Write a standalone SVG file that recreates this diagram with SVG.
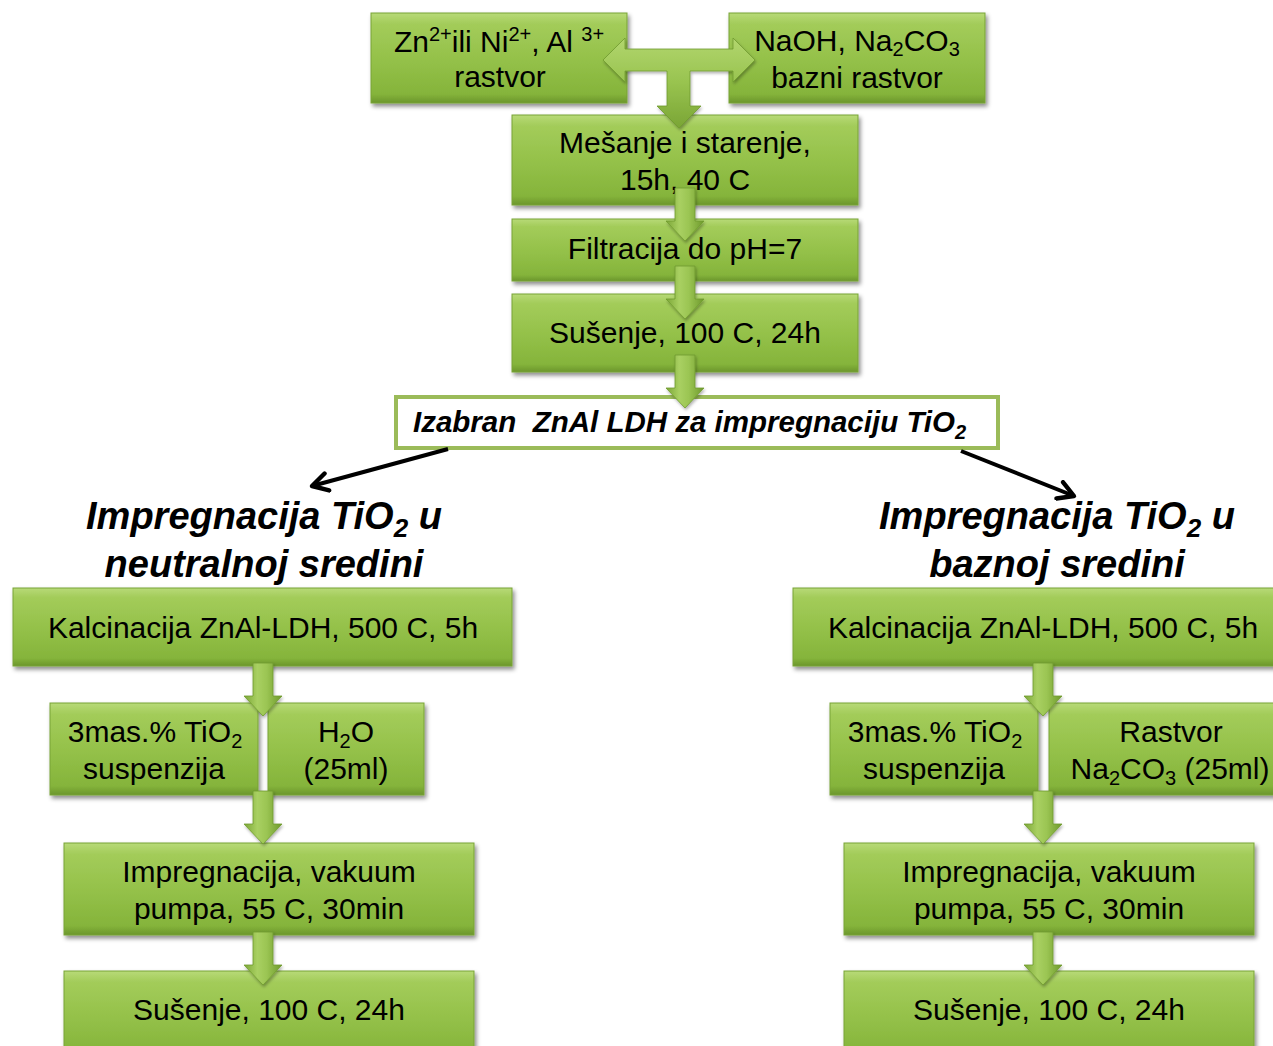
<svg xmlns="http://www.w3.org/2000/svg" width="1273" height="1046" viewBox="0 0 1273 1046">
  <style>
    .box { fill: url(#boxFill); stroke: #79a336; stroke-width: 1; filter: url(#shadow); }
    .t { font-family: "Liberation Sans", Arial, sans-serif; font-size: 30px; fill: #000; text-anchor: middle; }
    .s { font-size: 20px; }
    .head { font-family: "Liberation Sans", Arial, sans-serif; font-size: 38px; font-weight: bold; font-style: italic; fill: #000; text-anchor: middle; }
    .hs { font-size: 26px; }
    .sel { font-family: "Liberation Sans", Arial, sans-serif; font-size: 29.5px; font-weight: bold; font-style: italic; fill: #000; }
    .garrow { fill: url(#arrowFill); stroke: #6f9a2d; stroke-width: 0.8; filter: url(#ashadow); }
    .karrow { fill: none; stroke: #000; stroke-width: 4; marker-end: url(#openHead); }
  </style>
  <defs>
    <linearGradient id="boxFill" x1="0" y1="0" x2="0" y2="1">
      <stop offset="0" stop-color="#b8da78"/>
      <stop offset="0.12" stop-color="#a3cc5a"/>
      <stop offset="0.55" stop-color="#93c048"/>
      <stop offset="0.9" stop-color="#85b43b"/>
      <stop offset="1" stop-color="#6b962c"/>
    </linearGradient>
    <linearGradient id="arrowFill" x1="0" y1="0" x2="1" y2="0">
      <stop offset="0" stop-color="#7ba637"/>
      <stop offset="0.35" stop-color="#a9d062"/>
      <stop offset="0.6" stop-color="#9bc553"/>
      <stop offset="1" stop-color="#6e992c"/>
    </linearGradient>
    <linearGradient id="tFill" x1="0" y1="0" x2="0" y2="1">
      <stop offset="0" stop-color="#b2d66e"/>
      <stop offset="0.5" stop-color="#98c34f"/>
      <stop offset="1" stop-color="#7aa535"/>
    </linearGradient>
    <filter id="shadow" x="-5%" y="-10%" width="112%" height="130%">
      <feDropShadow dx="2" dy="3" stdDeviation="2" flood-color="#000" flood-opacity="0.45"/>
    </filter>
    <filter id="ashadow" x="-30%" y="-20%" width="160%" height="150%">
      <feDropShadow dx="1" dy="2" stdDeviation="1.5" flood-color="#000" flood-opacity="0.3"/>
    </filter>
    <path id="down" d="M-10,0 H10 V33 H19 L0,53 L-19,33 H-10 Z"/>
    <marker id="openHead" viewBox="0 0 20 20" refX="17" refY="10" markerWidth="22" markerHeight="22" markerUnits="userSpaceOnUse" orient="auto">
      <path d="M3,2 L17,10 L3,18" fill="none" stroke="#000" stroke-width="4" stroke-linecap="round" stroke-linejoin="round"/>
    </marker>
  </defs>

  <rect width="1273" height="1046" fill="#fff"/>

  <!-- upper synthesis chain -->
  <g id="n-metal-solution">
    <rect class="box" x="371" y="13" width="256" height="90"/>
    <text class="t" x="499" y="52">Zn<tspan class="s" dy="-11">2+</tspan><tspan dy="11">ili Ni</tspan><tspan class="s" dy="-11">2+</tspan><tspan dy="11">, Al </tspan><tspan class="s" dy="-11">3+</tspan></text>
    <text class="t" x="500" y="87">rastvor</text>
  </g>
  <g id="n-base-solution">
    <rect class="box" x="729" y="13" width="256" height="90"/>
    <text class="t" x="857" y="51">NaOH, Na<tspan class="s" dy="5">2</tspan><tspan dy="-5">CO</tspan><tspan class="s" dy="5">3</tspan></text>
    <text class="t" x="857" y="88">bazni rastvor</text>
  </g>
  <g id="n-mixing">
    <rect class="box" x="512" y="115" width="346" height="90"/>
    <text class="t" x="685" y="153">Mešanje i starenje,</text>
    <text class="t" x="685" y="190">15h, 40 C</text>
  </g>
  <g id="n-filtration">
    <rect class="box" x="512" y="219" width="346" height="62"/>
    <text class="t" x="685" y="259">Filtracija do pH=7</text>
  </g>
  <g id="n-drying">
    <rect class="box" x="512" y="294" width="346" height="78"/>
    <text class="t" x="685" y="343">Sušenje, 100 C, 24h</text>
  </g>
  <g id="n-selected">
    <rect x="396" y="397" width="602" height="51" fill="#fff" stroke="#9bbb59" stroke-width="4"/>
    <text class="sel" x="413" y="432" xml:space="preserve">Izabran  ZnAl LDH za impregnaciju TiO<tspan class="s" dy="7">2</tspan></text>
  </g>

  <!-- branch headings -->
  <g id="h-neutral">
    <text class="head" x="264" y="529">Impregnacija TiO<tspan class="hs" dy="8">2</tspan><tspan dy="-8"> u</tspan></text>
    <text class="head" x="264" y="577">neutralnoj sredini</text>
  </g>
  <g id="h-basic">
    <text class="head" x="1057" y="529">Impregnacija TiO<tspan class="hs" dy="8">2</tspan><tspan dy="-8"> u</tspan></text>
    <text class="head" x="1057" y="577">baznoj sredini</text>
  </g>

  <!-- neutral branch -->
  <g id="n-calc-left">
    <rect class="box" x="13" y="588" width="499" height="78"/>
    <text class="t" x="263" y="638">Kalcinacija ZnAl-LDH, 500 C, 5h</text>
  </g>
  <g id="n-tio2-left">
    <rect class="box" x="50" y="703" width="208" height="92"/>
    <text class="t" x="155" y="742">3mas.% TiO<tspan class="s" dy="6">2</tspan></text>
    <text class="t" x="154" y="779">suspenzija</text>
  </g>
  <g id="n-water">
    <rect class="box" x="268" y="703" width="156" height="92"/>
    <text class="t" x="346" y="742">H<tspan class="s" dy="6">2</tspan><tspan dy="-6">O</tspan></text>
    <text class="t" x="346" y="779">(25ml)</text>
  </g>
  <g id="n-impreg-left">
    <rect class="box" x="64" y="843" width="410" height="92"/>
    <text class="t" x="269" y="882">Impregnacija, vakuum</text>
    <text class="t" x="269" y="919">pumpa, 55 C, 30min</text>
  </g>
  <g id="n-dry-left">
    <rect class="box" x="64" y="971" width="410" height="90"/>
    <text class="t" x="269" y="1020">Sušenje, 100 C, 24h</text>
  </g>

  <!-- basic branch -->
  <g id="n-calc-right">
    <rect class="box" x="793" y="588" width="500" height="78"/>
    <text class="t" x="1043" y="638">Kalcinacija ZnAl-LDH, 500 C, 5h</text>
  </g>
  <g id="n-tio2-right">
    <rect class="box" x="830" y="703" width="208" height="92"/>
    <text class="t" x="935" y="742">3mas.% TiO<tspan class="s" dy="6">2</tspan></text>
    <text class="t" x="934" y="779">suspenzija</text>
  </g>
  <g id="n-carbonate">
    <rect class="box" x="1049" y="703" width="244" height="92"/>
    <text class="t" x="1171" y="742">Rastvor</text>
    <text class="t" x="1170" y="779">Na<tspan class="s" dy="6">2</tspan><tspan dy="-6">CO</tspan><tspan class="s" dy="6">3</tspan><tspan dy="-6"> (25ml)</tspan></text>
  </g>
  <g id="n-impreg-right">
    <rect class="box" x="844" y="843" width="410" height="92"/>
    <text class="t" x="1049" y="882">Impregnacija, vakuum</text>
    <text class="t" x="1049" y="919">pumpa, 55 C, 30min</text>
  </g>
  <g id="n-dry-right">
    <rect class="box" x="844" y="971" width="410" height="90"/>
    <text class="t" x="1049" y="1020">Sušenje, 100 C, 24h</text>
  </g>

  <!-- connectors -->
  <g id="connectors">
    <path class="garrow" style="fill:url(#tFill)" d="M603,60 L625,38 V49 H733 V38 L755,60 L733,82 V71 H690 V106 H701 L679,128 L657,106 H667 V71 H625 V82 Z"/>
    <use href="#down" class="garrow" transform="translate(685,188)"/>
    <use href="#down" class="garrow" transform="translate(685,266)"/>
    <use href="#down" class="garrow" transform="translate(685,355)"/>
    <line class="karrow" x1="448" y1="449" x2="312" y2="486"/>
    <line class="karrow" x1="961" y1="451" x2="1074" y2="496"/>
    <use href="#down" class="garrow" transform="translate(263,663)"/>
    <use href="#down" class="garrow" transform="translate(263,791)"/>
    <use href="#down" class="garrow" transform="translate(263,932)"/>
    <use href="#down" class="garrow" transform="translate(1043,663)"/>
    <use href="#down" class="garrow" transform="translate(1043,791)"/>
    <use href="#down" class="garrow" transform="translate(1043,932)"/>
  </g>
</svg>
